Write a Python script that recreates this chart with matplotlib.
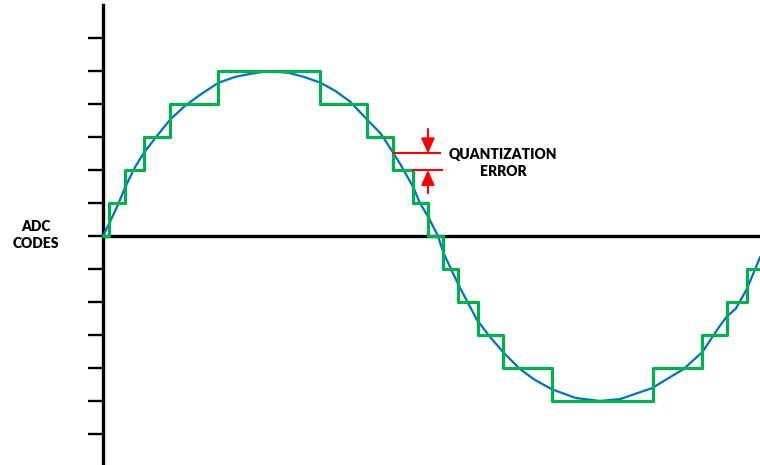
import matplotlib.pyplot as plt

# analog input (phase in degrees, value in ADC codes)
phase = [0, 4, 8, 12, 17, 22, 29, 36, 44, 52, 62, 71, 79, 89, 100, 108, 117,
         125, 133, 142, 149, 156, 160, 167, 170, 175, 180, 183, 191, 201, 208,
         215, 224, 232, 241, 254, 267, 278, 295, 312, 322, 331, 335, 340, 346, 353]
signal = [0, 0.45, 0.94, 1.48, 2.06, 2.52, 3.03, 3.52, 3.94, 4.27, 4.64, 4.82,
          4.91, 5.0, 4.94, 4.82, 4.64, 4.39, 4.06, 3.52, 3.12, 2.52, 2.15, 1.45,
          1.03, 0.55, 0, -0.52, -1.48, -2.55, -3.06, -3.52, -4.03, -4.36, -4.64,
          -4.91, -5.0, -4.94, -4.61, -4.03, -3.52, -2.76, -2.45, -2.2, -1.6, -0.65]

# quantized output: step edges (degrees) and code held on each step
step_edges = [0, 3.2, 11.8, 22.0, 36.0, 61.8, 116.6, 141.8, 155.8, 166.6, 174.6,
              182.7, 190.7, 201.5, 214.9, 241.3, 295.5, 321.8, 335.3, 346.0, 356]
step_codes = [0, 1, 2, 3, 4, 5, 4, 3, 2, 1, 0, -1, -2, -3, -4, -5, -4, -3, -2, -1]

code_ticks = list(range(-6, 7))

fig = plt.figure(figsize=(7.6, 4.65), dpi=100)
ax = fig.add_axes([0, 0, 1, 1])
ax.set_xlim(-55.3, 353.0)
ax.set_ylim(-6.94, 7.15)

ax.plot(phase, signal, color='#0070C0', lw=1.6, zorder=2)
ax.step(step_edges, step_codes + [step_codes[-1]], where='post',
        color='#00B050', lw=2.3, zorder=3)

# axes through the origin
for side in ['top', 'right']:
    ax.spines[side].set_visible(False)
ax.spines['left'].set_position(('data', 0))
ax.spines['bottom'].set_position(('data', 0))
ax.spines['left'].set_bounds(-7, 7)
ax.spines['bottom'].set_bounds(0, 360)
for side in ['left', 'bottom']:
    ax.spines[side].set_linewidth(2.4)
    ax.spines[side].set_zorder(1)
ax.set_xticks([])
ax.set_yticks(code_ticks)
ax.set_yticklabels([])
ax.tick_params(axis='y', length=10.8, width=1.7, direction='out', color='black')

# quantization error marker
ax.plot([155.8, 181], [2.5, 2.5], color='red', lw=1.5, zorder=4)
ax.plot([166.6, 182], [2.0, 2.0], color='red', lw=1.5, zorder=4)
arrow = dict(arrowstyle='-|>,head_length=0.45,head_width=0.2', mutation_scale=20,
             color='red', lw=1.5, shrinkA=0, shrinkB=0)
ax.annotate('', xy=(174.6, 2.5), xytext=(174.6, 3.24), arrowprops=arrow)
ax.annotate('', xy=(174.6, 2.0), xytext=(174.6, 1.3), arrowprops=arrow)

ax.text(214.9, 2.2, 'QUANTIZATION\nERROR', ha='center', va='center',
        fontsize=10, fontweight='heavy', family='Lato', linespacing=1.35)
ax.text(-36, 0.03, 'ADC\nCODES', ha='center', va='center',
        fontsize=10, fontweight='heavy', family='Lato', linespacing=1.35)

fig.savefig('out.png', dpi=100)
